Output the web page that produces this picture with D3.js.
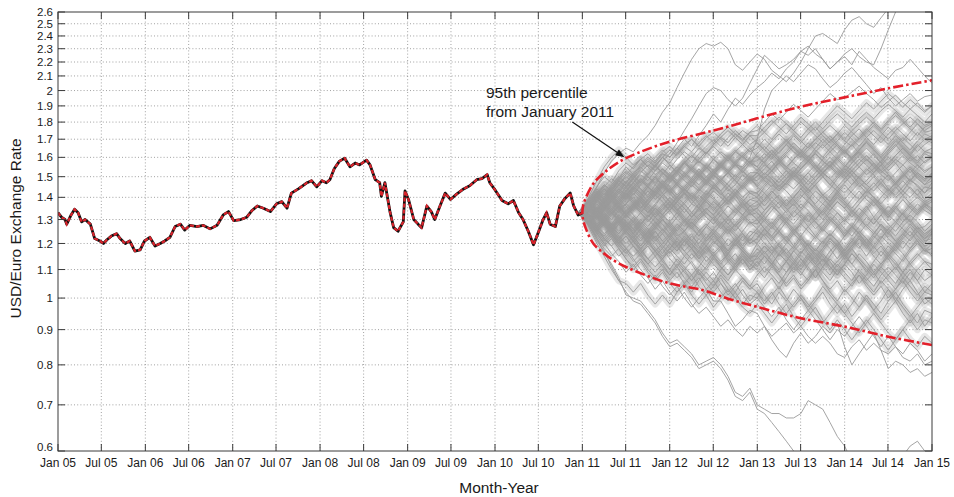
<!DOCTYPE html>
<html><head><meta charset="utf-8">
<script src="https://cdn.jsdelivr.net/npm/d3@7"></script>
<style>
html,body{margin:0;padding:0;background:#fff;}
svg{display:block;font-family:"Liberation Sans",Arial,Helvetica,sans-serif;}
</style></head><body>
<svg id="chart" width="954" height="497"></svg>
<script>
// ---- Observed USD/Euro rate: time in years after 1 Jan 2005, rate ----
const histYears = [0.00,0.04,0.08,0.10,0.15,0.19,0.23,0.27,0.31,0.37,0.42,0.48,0.52,0.56,0.61,0.67,0.71,0.77,0.82,0.88,0.94,0.99,
  1.05,1.11,1.17,1.22,1.28,1.34,1.40,1.45,1.51,1.59,1.66,1.74,1.82,1.89,1.95,2.01,2.09,2.16,2.22,2.28,2.35,2.43,2.50,2.56,2.62,
  2.67,2.75,2.85,2.90,2.96,3.02,3.07,3.11,3.16,3.22,3.28,3.34,3.40,3.45,3.53,3.57,3.63,3.68,3.70,3.74,3.80,3.84,3.89,3.95,3.97,
  4.01,4.07,4.12,4.16,4.22,4.27,4.31,4.37,4.43,4.49,4.56,4.64,4.71,4.79,4.85,4.91,4.94,5.00,5.08,5.15,5.21,5.27,5.32,5.38,5.44,
  5.50,5.55,5.59,5.63,5.69,5.74,5.80,5.86,5.90,5.95,6.00];
const histRate = [1.33,1.31,1.30,1.28,1.32,1.345,1.33,1.29,1.30,1.28,1.22,1.21,1.20,1.215,1.23,1.24,1.22,1.20,1.21,1.17,1.175,1.21,
  1.225,1.19,1.20,1.21,1.225,1.27,1.28,1.255,1.275,1.27,1.275,1.26,1.275,1.32,1.335,1.295,1.30,1.31,1.34,1.36,1.35,1.335,1.37,1.38,1.35,
  1.42,1.44,1.47,1.48,1.45,1.48,1.47,1.485,1.54,1.58,1.595,1.55,1.57,1.56,1.585,1.56,1.485,1.47,1.405,1.47,1.33,1.265,1.25,1.29,1.43,
  1.39,1.30,1.28,1.265,1.36,1.335,1.30,1.36,1.42,1.39,1.415,1.44,1.455,1.485,1.49,1.51,1.47,1.435,1.385,1.37,1.385,1.33,1.30,1.25,1.195,
  1.25,1.30,1.33,1.28,1.27,1.36,1.395,1.42,1.36,1.32,1.33];

// ---- Simulated rate paths, one value per month from Jan 2011 to Jan 2015 ----
// paths that stay in the main bundle
const simCorePaths = [
  [1.33,1.36,1.31,1.34,1.39,1.35,1.37,1.42,1.38,1.33,1.36,1.41,1.44,1.39,1.42,1.37,1.35,1.40,1.46,1.43,1.38,1.41,1.36,1.39,1.40,1.45,1.49,1.44,1.47,1.52,1.48,1.43,1.46,1.41,1.38,1.43,1.47,1.51,1.46,1.42,1.45,1.49,1.44,1.40,1.43,1.48,1.46,1.42,1.45],
  [1.33,1.29,1.31,1.27,1.24,1.28,1.32,1.29,1.25,1.22,1.26,1.30,1.27,1.23,1.25,1.21,1.18,1.22,1.26,1.29,1.25,1.28,1.24,1.21,1.25,1.23,1.19,1.16,1.20,1.24,1.21,1.17,1.14,1.18,1.22,1.19,1.23,1.27,1.24,1.20,1.16,1.19,1.15,1.18,1.22,1.25,1.21,1.17,1.20],
  [1.33,1.37,1.41,1.38,1.43,1.40,1.45,1.49,1.44,1.41,1.46,1.42,1.47,1.52,1.48,1.45,1.50,1.55,1.51,1.47,1.43,1.46,1.51,1.48,1.50,1.54,1.58,1.53,1.49,1.52,1.57,1.61,1.56,1.52,1.55,1.60,1.64,1.59,1.55,1.51,1.54,1.58,1.63,1.67,1.62,1.58,1.61,1.57,1.60],
  [1.33,1.30,1.26,1.29,1.24,1.21,1.25,1.22,1.18,1.21,1.17,1.20,1.23,1.19,1.15,1.18,1.14,1.17,1.21,1.18,1.13,1.16,1.12,1.15,1.15,1.19,1.16,1.12,1.09,1.13,1.10,1.14,1.18,1.15,1.11,1.08,1.12,1.09,1.05,1.08,1.12,1.09,1.06,1.03,1.07,1.10,1.06,1.02,1.05],
  [1.33,1.35,1.39,1.36,1.40,1.44,1.41,1.37,1.40,1.45,1.49,1.46,1.42,1.38,1.41,1.46,1.43,1.47,1.51,1.48,1.44,1.41,1.45,1.49,1.45,1.42,1.38,1.41,1.37,1.40,1.44,1.41,1.36,1.33,1.37,1.41,1.38,1.34,1.31,1.35,1.39,1.36,1.32,1.29,1.33,1.37,1.40,1.37,1.35],
  [1.33,1.31,1.27,1.30,1.26,1.29,1.25,1.22,1.26,1.23,1.27,1.24,1.20,1.17,1.21,1.24,1.19,1.16,1.20,1.23,1.19,1.22,1.18,1.15,1.20,1.24,1.21,1.25,1.29,1.26,1.22,1.19,1.23,1.27,1.31,1.28,1.24,1.27,1.32,1.36,1.31,1.27,1.24,1.28,1.33,1.29,1.26,1.27,1.30],
  [1.33,1.38,1.42,1.46,1.43,1.48,1.45,1.50,1.47,1.51,1.55,1.52,1.48,1.53,1.57,1.54,1.50,1.46,1.51,1.56,1.53,1.58,1.61,1.57,1.55,1.60,1.64,1.59,1.63,1.68,1.64,1.60,1.65,1.70,1.66,1.62,1.67,1.72,1.76,1.71,1.67,1.72,1.77,1.73,1.69,1.74,1.79,1.74,1.75],
  [1.33,1.35,1.32,1.36,1.33,1.29,1.32,1.36,1.39,1.35,1.31,1.34,1.38,1.34,1.30,1.27,1.31,1.35,1.32,1.28,1.31,1.27,1.30,1.33,1.30,1.26,1.22,1.25,1.21,1.18,1.22,1.19,1.15,1.18,1.22,1.19,1.15,1.12,1.16,1.13,1.09,1.12,1.16,1.13,1.09,1.06,1.10,1.13,1.10],
  [1.33,1.30,1.34,1.31,1.35,1.39,1.36,1.32,1.28,1.31,1.35,1.32,1.36,1.40,1.37,1.33,1.30,1.34,1.38,1.35,1.31,1.34,1.38,1.33,1.35,1.39,1.43,1.40,1.36,1.40,1.44,1.48,1.45,1.41,1.44,1.49,1.53,1.49,1.45,1.48,1.52,1.56,1.51,1.47,1.50,1.54,1.49,1.46,1.50],
  [1.33,1.36,1.40,1.37,1.33,1.36,1.32,1.35,1.39,1.43,1.39,1.42,1.38,1.34,1.37,1.41,1.38,1.42,1.39,1.35,1.38,1.42,1.39,1.36,1.38,1.34,1.37,1.33,1.30,1.34,1.31,1.27,1.30,1.34,1.30,1.27,1.23,1.26,1.30,1.27,1.24,1.28,1.25,1.21,1.24,1.28,1.25,1.22,1.25],
  [1.33,1.37,1.34,1.39,1.43,1.47,1.44,1.49,1.53,1.50,1.46,1.51,1.56,1.52,1.57,1.61,1.58,1.54,1.59,1.63,1.60,1.56,1.61,1.65,1.60,1.57,1.62,1.66,1.70,1.65,1.61,1.58,1.63,1.67,1.63,1.59,1.55,1.60,1.64,1.69,1.65,1.61,1.66,1.70,1.66,1.62,1.67,1.63,1.65],
  [1.33,1.29,1.25,1.28,1.24,1.20,1.23,1.19,1.16,1.20,1.17,1.14,1.18,1.15,1.12,1.16,1.13,1.10,1.14,1.11,1.08,1.12,1.15,1.12,1.10,1.07,1.11,1.08,1.04,1.07,1.03,1.06,1.10,1.06,1.02,0.99,1.03,1.00,0.97,1.01,0.98,0.95,0.99,1.02,0.98,0.95,0.92,0.96,0.95],
  [1.33,1.32,1.28,1.31,1.35,1.31,1.27,1.24,1.28,1.32,1.29,1.25,1.29,1.33,1.30,1.26,1.23,1.27,1.31,1.27,1.24,1.28,1.32,1.29,1.28,1.32,1.36,1.33,1.29,1.33,1.37,1.34,1.30,1.34,1.38,1.42,1.38,1.35,1.39,1.43,1.40,1.36,1.33,1.37,1.41,1.45,1.41,1.38,1.40],
  [1.33,1.36,1.33,1.37,1.41,1.38,1.42,1.39,1.35,1.39,1.43,1.47,1.43,1.40,1.44,1.48,1.44,1.41,1.45,1.49,1.46,1.42,1.46,1.50,1.45,1.49,1.53,1.49,1.46,1.50,1.54,1.58,1.54,1.50,1.46,1.50,1.54,1.51,1.55,1.59,1.55,1.51,1.48,1.52,1.56,1.60,1.56,1.52,1.55],
  [1.33,1.30,1.33,1.29,1.26,1.30,1.27,1.30,1.26,1.23,1.27,1.30,1.26,1.22,1.25,1.29,1.25,1.21,1.24,1.20,1.17,1.21,1.24,1.20,1.22,1.26,1.23,1.19,1.16,1.19,1.23,1.19,1.16,1.13,1.17,1.20,1.16,1.19,1.23,1.19,1.15,1.12,1.15,1.19,1.16,1.12,1.15,1.18,1.15],
  [1.33,1.37,1.41,1.37,1.40,1.44,1.41,1.45,1.42,1.46,1.50,1.46,1.43,1.47,1.51,1.47,1.51,1.55,1.51,1.48,1.52,1.56,1.53,1.49,1.52,1.48,1.45,1.49,1.53,1.49,1.46,1.42,1.46,1.50,1.46,1.43,1.39,1.43,1.47,1.44,1.40,1.37,1.41,1.45,1.41,1.37,1.34,1.37,1.39],
  [1.33,1.31,1.35,1.32,1.36,1.33,1.37,1.40,1.36,1.33,1.37,1.41,1.38,1.34,1.38,1.42,1.39,1.43,1.40,1.36,1.40,1.44,1.40,1.43,1.42,1.46,1.50,1.47,1.51,1.55,1.51,1.48,1.52,1.56,1.60,1.56,1.52,1.57,1.61,1.65,1.61,1.57,1.62,1.66,1.71,1.67,1.63,1.67,1.70],
  [1.33,1.30,1.27,1.31,1.28,1.25,1.29,1.26,1.22,1.25,1.21,1.24,1.28,1.24,1.21,1.18,1.22,1.19,1.23,1.20,1.16,1.20,1.17,1.14,1.18,1.15,1.12,1.16,1.13,1.09,1.12,1.16,1.12,1.09,1.06,1.10,1.07,1.04,1.08,1.05,1.02,1.06,1.03,0.99,1.03,1.06,1.02,0.98,1.00],
  [1.33,1.35,1.31,1.28,1.32,1.36,1.32,1.29,1.33,1.37,1.34,1.30,1.27,1.31,1.35,1.31,1.34,1.38,1.35,1.31,1.28,1.32,1.36,1.32,1.33,1.29,1.26,1.30,1.34,1.37,1.33,1.30,1.26,1.29,1.33,1.30,1.26,1.23,1.27,1.31,1.28,1.32,1.28,1.25,1.29,1.32,1.29,1.25,1.28],
  [1.33,1.38,1.42,1.39,1.44,1.48,1.45,1.41,1.46,1.50,1.47,1.52,1.49,1.53,1.57,1.53,1.50,1.54,1.59,1.56,1.60,1.64,1.60,1.57,1.62,1.66,1.62,1.58,1.55,1.59,1.63,1.59,1.55,1.52,1.56,1.60,1.56,1.53,1.49,1.53,1.57,1.53,1.50,1.46,1.50,1.54,1.50,1.46,1.48],
  [1.33,1.29,1.26,1.22,1.25,1.21,1.18,1.21,1.17,1.14,1.17,1.13,1.10,1.14,1.11,1.08,1.11,1.15,1.12,1.09,1.06,1.10,1.07,1.04,1.08,1.11,1.08,1.05,1.09,1.12,1.09,1.06,1.10,1.14,1.11,1.08,1.12,1.16,1.13,1.09,1.13,1.17,1.14,1.10,1.14,1.18,1.21,1.17,1.18],
  [1.33,1.34,1.30,1.34,1.38,1.34,1.31,1.35,1.39,1.36,1.32,1.36,1.40,1.37,1.33,1.37,1.41,1.38,1.34,1.38,1.42,1.39,1.35,1.39,1.38,1.42,1.46,1.43,1.47,1.44,1.48,1.52,1.48,1.52,1.56,1.52,1.49,1.53,1.57,1.61,1.57,1.53,1.57,1.61,1.65,1.61,1.58,1.63,1.62],
  [1.33,1.31,1.34,1.30,1.27,1.31,1.28,1.24,1.28,1.25,1.29,1.26,1.22,1.26,1.30,1.27,1.23,1.27,1.24,1.28,1.25,1.21,1.25,1.29,1.26,1.30,1.27,1.31,1.28,1.24,1.28,1.32,1.29,1.25,1.29,1.33,1.30,1.34,1.31,1.27,1.31,1.35,1.32,1.36,1.32,1.29,1.33,1.36,1.33],
  [1.33,1.39,1.44,1.41,1.46,1.50,1.47,1.52,1.55,1.51,1.56,1.60,1.56,1.52,1.57,1.61,1.57,1.62,1.66,1.62,1.58,1.63,1.67,1.63,1.65,1.70,1.66,1.62,1.67,1.72,1.68,1.73,1.77,1.72,1.68,1.73,1.78,1.74,1.70,1.75,1.80,1.76,1.81,1.86,1.81,1.77,1.82,1.78,1.80],
  [1.33,1.30,1.26,1.23,1.27,1.24,1.28,1.24,1.21,1.25,1.22,1.18,1.22,1.19,1.23,1.20,1.17,1.21,1.24,1.21,1.17,1.21,1.18,1.22,1.20,1.16,1.19,1.15,1.18,1.14,1.11,1.15,1.12,1.16,1.13,1.09,1.12,1.16,1.13,1.10,1.07,1.11,1.08,1.05,1.09,1.12,1.09,1.06,1.08],
  [1.33,1.36,1.40,1.44,1.40,1.37,1.41,1.45,1.49,1.45,1.42,1.46,1.50,1.47,1.51,1.55,1.52,1.48,1.52,1.57,1.53,1.50,1.54,1.58,1.55,1.51,1.55,1.59,1.55,1.52,1.48,1.52,1.56,1.52,1.49,1.45,1.49,1.53,1.49,1.46,1.50,1.46,1.43,1.47,1.43,1.40,1.44,1.39,1.42],
  [1.33,1.35,1.32,1.36,1.39,1.35,1.32,1.36,1.33,1.29,1.33,1.37,1.34,1.38,1.35,1.31,1.35,1.39,1.36,1.32,1.36,1.33,1.37,1.34,1.35,1.31,1.28,1.32,1.29,1.25,1.29,1.33,1.29,1.26,1.30,1.27,1.23,1.27,1.24,1.20,1.24,1.28,1.24,1.21,1.18,1.22,1.25,1.21,1.22],
  [1.33,1.30,1.27,1.30,1.34,1.30,1.27,1.31,1.27,1.24,1.28,1.32,1.29,1.25,1.29,1.26,1.30,1.33,1.30,1.26,1.30,1.27,1.31,1.28,1.30,1.34,1.38,1.35,1.39,1.36,1.40,1.44,1.40,1.37,1.41,1.45,1.42,1.46,1.50,1.46,1.43,1.47,1.51,1.47,1.51,1.55,1.51,1.48,1.52],
  [1.33,1.28,1.24,1.20,1.23,1.19,1.16,1.19,1.15,1.12,1.15,1.11,1.08,1.12,1.09,1.06,1.10,1.07,1.04,1.08,1.05,1.02,1.06,1.03,1.05,1.01,0.98,1.02,0.99,1.03,1.00,0.97,1.00,1.04,1.01,0.98,0.95,0.98,1.02,0.99,0.96,0.99,1.03,1.00,0.97,0.94,0.97,1.00,0.98],
  [1.33,1.37,1.33,1.37,1.34,1.38,1.42,1.38,1.35,1.39,1.43,1.40,1.36,1.40,1.44,1.41,1.37,1.41,1.45,1.42,1.38,1.42,1.46,1.42,1.42,1.38,1.42,1.46,1.43,1.39,1.35,1.39,1.43,1.40,1.36,1.40,1.37,1.33,1.37,1.41,1.38,1.34,1.31,1.35,1.39,1.35,1.32,1.36,1.38],
  [1.33,1.36,1.41,1.45,1.49,1.46,1.51,1.55,1.59,1.55,1.60,1.64,1.60,1.65,1.61,1.57,1.62,1.66,1.70,1.66,1.71,1.75,1.71,1.67,1.70,1.74,1.70,1.75,1.79,1.75,1.71,1.76,1.80,1.76,1.81,1.85,1.81,1.77,1.82,1.86,1.82,1.87,1.91,1.87,1.83,1.88,1.84,1.80,1.85],
  [1.33,1.30,1.27,1.24,1.27,1.23,1.20,1.23,1.19,1.22,1.18,1.15,1.18,1.21,1.17,1.14,1.17,1.13,1.16,1.19,1.15,1.12,1.16,1.13,1.14,1.17,1.13,1.10,1.13,1.17,1.14,1.10,1.07,1.11,1.14,1.11,1.15,1.18,1.14,1.11,1.08,1.11,1.15,1.12,1.09,1.13,1.16,1.13,1.12],
  [1.33,1.35,1.39,1.35,1.38,1.42,1.39,1.43,1.40,1.37,1.41,1.45,1.42,1.46,1.42,1.39,1.43,1.47,1.44,1.48,1.52,1.48,1.45,1.49,1.48,1.52,1.49,1.45,1.49,1.53,1.50,1.46,1.50,1.54,1.58,1.54,1.51,1.55,1.59,1.56,1.52,1.56,1.60,1.57,1.61,1.57,1.54,1.58,1.60],
  [1.33,1.29,1.32,1.28,1.25,1.28,1.24,1.21,1.24,1.20,1.23,1.19,1.16,1.19,1.22,1.18,1.15,1.19,1.16,1.13,1.16,1.20,1.17,1.14,1.16,1.19,1.16,1.20,1.23,1.19,1.16,1.20,1.17,1.21,1.24,1.21,1.17,1.21,1.25,1.22,1.18,1.22,1.26,1.23,1.27,1.30,1.26,1.23,1.26],
  [1.33,1.34,1.37,1.33,1.30,1.34,1.37,1.34,1.38,1.34,1.31,1.35,1.38,1.35,1.31,1.28,1.32,1.35,1.32,1.36,1.39,1.35,1.32,1.36,1.36,1.39,1.43,1.39,1.36,1.40,1.44,1.40,1.37,1.41,1.38,1.42,1.46,1.42,1.39,1.43,1.47,1.43,1.40,1.44,1.48,1.44,1.41,1.45,1.44],
  [1.33,1.31,1.35,1.31,1.28,1.32,1.29,1.26,1.30,1.27,1.31,1.28,1.24,1.28,1.25,1.29,1.26,1.22,1.26,1.23,1.27,1.24,1.21,1.25,1.24,1.20,1.17,1.20,1.16,1.13,1.17,1.14,1.11,1.14,1.10,1.13,1.16,1.12,1.09,1.06,1.09,1.05,1.08,1.11,1.07,1.04,1.01,1.04,1.02],
  [1.33,1.37,1.34,1.38,1.42,1.39,1.43,1.47,1.44,1.40,1.44,1.48,1.45,1.41,1.45,1.49,1.46,1.50,1.47,1.43,1.47,1.51,1.48,1.52,1.52,1.56,1.53,1.57,1.61,1.57,1.54,1.58,1.62,1.58,1.55,1.59,1.63,1.60,1.64,1.68,1.64,1.60,1.64,1.69,1.65,1.61,1.66,1.70,1.68],
  [1.33,1.36,1.32,1.35,1.39,1.36,1.32,1.36,1.40,1.37,1.41,1.38,1.34,1.38,1.42,1.39,1.35,1.39,1.43,1.40,1.37,1.41,1.38,1.42,1.40,1.36,1.40,1.37,1.33,1.37,1.41,1.38,1.34,1.30,1.34,1.38,1.35,1.31,1.35,1.32,1.28,1.32,1.36,1.33,1.29,1.33,1.37,1.34,1.32],
  [1.33,1.29,1.26,1.22,1.19,1.22,1.18,1.15,1.18,1.14,1.11,1.14,1.10,1.07,1.10,1.06,1.09,1.05,1.02,1.05,1.01,1.04,1.07,1.04,1.02,0.99,1.02,0.98,0.95,0.98,1.01,0.98,0.95,0.92,0.95,0.98,0.95,0.92,0.89,0.92,0.95,0.92,0.89,0.87,0.90,0.93,0.90,0.93,0.92],
  [1.33,1.38,1.43,1.40,1.45,1.49,1.53,1.50,1.55,1.59,1.55,1.60,1.64,1.61,1.66,1.70,1.66,1.62,1.67,1.71,1.75,1.71,1.67,1.72,1.72,1.77,1.81,1.77,1.73,1.78,1.83,1.79,1.75,1.80,1.85,1.90,1.86,1.82,1.87,1.92,1.88,1.93,1.98,1.94,1.89,1.94,1.90,1.86,1.90],
  [1.33,1.36,1.32,1.29,1.33,1.30,1.34,1.37,1.33,1.30,1.27,1.31,1.34,1.30,1.27,1.31,1.35,1.31,1.28,1.32,1.28,1.25,1.29,1.33,1.30,1.26,1.29,1.25,1.22,1.26,1.23,1.27,1.23,1.20,1.24,1.21,1.17,1.21,1.18,1.22,1.19,1.15,1.19,1.16,1.13,1.17,1.20,1.17,1.16],
  [1.33,1.30,1.33,1.29,1.26,1.29,1.25,1.28,1.24,1.21,1.25,1.21,1.18,1.22,1.19,1.23,1.20,1.24,1.21,1.18,1.22,1.19,1.23,1.20,1.22,1.26,1.23,1.27,1.31,1.28,1.32,1.29,1.33,1.37,1.34,1.38,1.35,1.39,1.43,1.39,1.36,1.40,1.44,1.41,1.45,1.49,1.45,1.42,1.47],
  [1.33,1.27,1.23,1.19,1.22,1.18,1.14,1.10,1.13,1.09,1.06,1.09,1.05,1.02,1.05,1.01,0.98,1.01,0.97,1.00,1.03,1.00,0.97,0.95,0.98,0.95,0.92,0.95,0.98,0.94,0.91,0.94,0.97,0.93,0.90,0.93,0.90,0.87,0.90,0.93,0.90,0.87,0.84,0.87,0.90,0.87,0.85,0.88,0.86],
  [1.33,1.35,1.39,1.43,1.40,1.44,1.48,1.45,1.49,1.46,1.50,1.54,1.51,1.55,1.52,1.48,1.52,1.56,1.53,1.57,1.61,1.57,1.54,1.58,1.58,1.62,1.59,1.63,1.67,1.63,1.60,1.64,1.68,1.65,1.69,1.73,1.69,1.66,1.70,1.74,1.78,1.74,1.70,1.75,1.79,1.83,1.79,1.75,1.78],
  [1.33,1.29,1.25,1.28,1.24,1.20,1.23,1.19,1.16,1.19,1.15,1.18,1.14,1.11,1.15,1.12,1.08,1.11,1.15,1.11,1.08,1.11,1.14,1.10,1.12,1.15,1.12,1.16,1.13,1.17,1.20,1.16,1.13,1.17,1.21,1.18,1.14,1.18,1.22,1.19,1.23,1.20,1.16,1.20,1.24,1.21,1.25,1.22,1.24],
  [1.33,1.41,1.48,1.55,1.60,1.64,1.60,1.56,1.59,1.55,1.51,1.54,1.50,1.46,1.50,1.54,1.51,1.47,1.51,1.55,1.52,1.48,1.44,1.48,1.52,1.49,1.53,1.57,1.53,1.50,1.54,1.58,1.62,1.58,1.55,1.51,1.55,1.59,1.63,1.59,1.56,1.52,1.55,1.59,1.56,1.52,1.56,1.53,1.55],
  [1.33,1.26,1.20,1.15,1.10,1.06,1.05,1.02,1.05,1.01,0.98,1.01,0.98,1.02,1.05,1.02,1.06,1.09,1.06,1.10,1.13,1.10,1.14,1.11,1.15,1.12,1.16,1.19,1.15,1.12,1.16,1.20,1.17,1.21,1.18,1.14,1.18,1.22,1.19,1.15,1.19,1.23,1.20,1.17,1.21,1.18,1.22,1.19,1.20],
  [1.33,1.39,1.45,1.50,1.47,1.53,1.57,1.54,1.59,1.62,1.58,1.63,1.66,1.62,1.67,1.70,1.66,1.71,1.74,1.70,1.66,1.71,1.75,1.72,1.68,1.64,1.69,1.73,1.69,1.65,1.61,1.66,1.70,1.74,1.70,1.66,1.62,1.67,1.71,1.76,1.72,1.68,1.73,1.77,1.73,1.69,1.74,1.70,1.72],
  [1.33,1.27,1.22,1.18,1.15,1.18,1.14,1.11,1.14,1.10,1.07,1.10,1.06,1.09,1.05,1.08,1.04,1.01,1.04,1.07,1.03,1.00,1.03,0.99,1.02,0.98,1.01,1.04,1.00,0.97,1.00,0.96,0.99,1.02,0.98,0.95,0.98,0.94,0.97,1.00,0.96,0.93,0.96,0.99,0.95,0.92,0.95,0.91,0.94],
  [1.33,1.38,1.35,1.40,1.45,1.42,1.47,1.51,1.47,1.52,1.56,1.52,1.49,1.53,1.58,1.54,1.59,1.63,1.59,1.55,1.60,1.56,1.52,1.57,1.61,1.57,1.53,1.58,1.62,1.66,1.62,1.58,1.54,1.59,1.63,1.67,1.63,1.59,1.64,1.68,1.64,1.60,1.56,1.61,1.65,1.61,1.57,1.62,1.60],
  [1.33,1.30,1.26,1.29,1.25,1.22,1.26,1.23,1.19,1.23,1.20,1.16,1.20,1.17,1.21,1.18,1.14,1.18,1.15,1.12,1.16,1.13,1.17,1.14,1.11,1.15,1.12,1.09,1.13,1.10,1.14,1.11,1.07,1.11,1.08,1.12,1.09,1.06,1.10,1.07,1.04,1.08,1.11,1.08,1.05,1.09,1.06,1.10,1.08],
  [1.33,1.35,1.32,1.29,1.33,1.36,1.33,1.37,1.34,1.31,1.35,1.32,1.36,1.33,1.29,1.33,1.37,1.33,1.30,1.34,1.31,1.35,1.32,1.36,1.33,1.30,1.34,1.38,1.35,1.31,1.34,1.38,1.35,1.32,1.36,1.33,1.29,1.33,1.30,1.34,1.38,1.35,1.31,1.35,1.32,1.36,1.33,1.37,1.34],
  [1.33,1.36,1.41,1.46,1.43,1.48,1.52,1.49,1.54,1.58,1.55,1.60,1.57,1.62,1.66,1.63,1.68,1.72,1.68,1.73,1.77,1.73,1.69,1.74,1.78,1.74,1.79,1.83,1.79,1.75,1.80,1.76,1.72,1.68,1.72,1.67,1.63,1.67,1.62,1.58,1.62,1.57,1.53,1.57,1.52,1.48,1.52,1.49,1.50],
  [1.33,1.29,1.25,1.21,1.24,1.20,1.17,1.13,1.16,1.12,1.09,1.12,1.08,1.11,1.07,1.04,1.07,1.03,1.06,1.02,0.99,1.02,0.98,1.01,1.00,1.04,1.07,1.03,1.07,1.11,1.08,1.12,1.15,1.11,1.15,1.19,1.15,1.19,1.22,1.18,1.22,1.26,1.22,1.19,1.23,1.27,1.23,1.20,1.24],
  [1.33,1.34,1.38,1.35,1.39,1.36,1.40,1.44,1.41,1.45,1.42,1.46,1.50,1.46,1.43,1.47,1.51,1.48,1.52,1.56,1.52,1.57,1.61,1.57,1.53,1.58,1.62,1.58,1.54,1.59,1.63,1.68,1.64,1.60,1.65,1.69,1.74,1.70,1.66,1.71,1.75,1.71,1.67,1.72,1.68,1.64,1.69,1.73,1.71],
  [1.33,1.31,1.34,1.30,1.27,1.30,1.26,1.29,1.25,1.22,1.25,1.21,1.24,1.20,1.17,1.20,1.16,1.19,1.15,1.18,1.14,1.11,1.14,1.10,1.13,1.09,1.12,1.08,1.05,1.08,1.04,1.07,1.10,1.06,1.03,1.06,1.02,1.05,1.08,1.04,1.01,1.04,1.00,1.03,1.06,1.02,0.99,1.02,1.01],
  [1.33,1.37,1.40,1.44,1.41,1.37,1.41,1.45,1.42,1.38,1.42,1.46,1.43,1.47,1.44,1.40,1.44,1.48,1.45,1.41,1.45,1.49,1.53,1.49,1.46,1.50,1.47,1.43,1.47,1.51,1.47,1.44,1.48,1.52,1.49,1.53,1.50,1.46,1.50,1.54,1.51,1.47,1.43,1.47,1.51,1.48,1.52,1.49,1.51],
  [1.33,1.30,1.27,1.31,1.27,1.24,1.28,1.25,1.29,1.26,1.22,1.26,1.23,1.27,1.24,1.21,1.25,1.28,1.25,1.22,1.26,1.23,1.19,1.23,1.26,1.23,1.27,1.24,1.21,1.25,1.28,1.25,1.22,1.26,1.23,1.27,1.30,1.27,1.24,1.28,1.25,1.22,1.26,1.29,1.26,1.23,1.27,1.24,1.26],
  [1.33,1.35,1.31,1.35,1.39,1.43,1.40,1.44,1.48,1.45,1.41,1.45,1.49,1.53,1.50,1.54,1.58,1.55,1.51,1.55,1.59,1.63,1.60,1.64,1.68,1.64,1.60,1.65,1.69,1.73,1.69,1.65,1.70,1.74,1.78,1.74,1.70,1.75,1.79,1.83,1.79,1.75,1.80,1.84,1.80,1.76,1.72,1.77,1.79]
];
// paths that leave the band
const simOuterPaths = [
  [1.33,1.29,1.24,1.20,1.16,1.13,1.09,1.12,1.08,1.05,1.08,1.04,1.01,1.04,1.00,0.97,1.00,1.03,0.99,0.99,0.95,0.91,0.93,0.96,0.95,0.91,0.87,0.84,0.82,0.86,0.89,0.86,0.88,0.91,0.89,0.92,0.85,0.80,0.83,0.86,0.89,0.84,0.79,0.81,0.80,0.78,0.79,0.77,0.78],
  [1.33,1.30,1.26,1.22,1.19,1.15,1.18,1.14,1.10,1.07,1.03,1.06,1.02,0.99,1.02,0.98,0.95,0.97,0.94,0.91,0.93,0.90,0.88,0.91,0.89,0.91,0.88,0.90,0.92,0.89,0.91,0.88,0.86,0.88,0.86,0.83,0.82,0.85,0.87,0.84,0.86,0.84,0.83,0.85,0.82,0.81,0.83,0.80,0.81],
  [1.33,1.31,1.27,1.30,1.26,1.22,1.25,1.21,1.18,1.21,1.17,1.14,1.17,1.13,1.10,1.13,1.09,1.06,1.09,1.05,1.02,1.05,1.01,0.98,1.00,0.97,0.94,0.97,0.93,0.90,0.93,0.96,0.93,0.90,0.87,0.90,0.88,0.91,0.94,0.91,0.88,0.85,0.88,0.85,0.83,0.86,0.84,0.81,0.83],
  [1.33,1.28,1.22,1.16,1.12,1.07,1.01,1.00,0.99,0.96,0.93,0.89,0.86,0.87,0.85,0.83,0.80,0.81,0.82,0.80,0.77,0.73,0.72,0.74,0.70,0.69,0.68,0.68,0.67,0.67,0.68,0.71,0.70,0.69,0.66,0.63,0.61,0.58,0.57,0.56,0.55,0.56,0.54,0.53,0.55,0.54,0.52,0.53,0.52],
  [1.33,1.27,1.21,1.17,1.11,1.06,1.02,0.99,0.98,0.95,0.92,0.88,0.85,0.86,0.84,0.82,0.79,0.80,0.81,0.79,0.76,0.72,0.71,0.73,0.69,0.68,0.66,0.64,0.62,0.60,0.58,0.57,0.55,0.56,0.54,0.53,0.55,0.56,0.54,0.55,0.57,0.56,0.58,0.57,0.59,0.61,0.62,0.60,0.59],
  [1.33,1.40,1.45,1.52,1.58,1.62,1.65,1.63,1.68,1.72,1.78,1.86,1.92,2.02,2.12,2.22,2.30,2.34,2.32,2.35,2.30,2.18,2.14,2.20,2.26,2.22,2.14,2.10,2.06,2.12,2.20,2.30,2.40,2.42,2.38,2.34,2.45,2.53,2.56,2.50,2.47,2.55,2.63,2.70,2.76,2.82,2.88,2.93,2.98],
  [1.33,1.36,1.40,1.37,1.42,1.46,1.50,1.47,1.52,1.56,1.53,1.58,1.62,1.68,1.75,1.82,1.90,1.98,2.02,2.00,1.94,1.90,1.95,2.05,2.15,2.25,2.20,2.15,2.18,2.22,2.28,2.25,2.30,2.22,2.15,2.20,2.26,2.30,2.24,2.20,2.18,2.30,2.45,2.60,2.75,2.85,2.92,3.00,3.05],
  [1.33,1.37,1.42,1.39,1.44,1.49,1.55,1.51,1.56,1.60,1.57,1.62,1.60,1.65,1.70,1.66,1.72,1.78,1.85,1.80,1.88,1.95,1.91,1.97,2.02,2.06,2.12,2.08,2.15,2.20,2.28,2.32,2.26,2.22,2.15,2.20,2.24,2.18,2.28,2.22,2.16,2.12,2.08,2.14,2.16,2.22,2.16,2.10,2.05],
  [1.33,1.35,1.38,1.42,1.39,1.43,1.47,1.44,1.48,1.45,1.50,1.46,1.51,1.48,1.52,1.49,1.54,1.50,1.53,1.49,1.52,1.56,1.55,1.60,1.70,1.88,2.00,2.05,2.10,2.06,2.12,2.18,2.15,2.08,2.02,2.06,2.12,2.16,2.10,2.04,1.98,2.02,1.95,1.90,1.94,1.98,1.93,1.96,1.97],
  [1.33,1.37,1.34,1.38,1.42,1.46,1.43,1.47,1.51,1.48,1.53,1.57,1.54,1.59,1.63,1.60,1.65,1.62,1.67,1.71,1.68,1.73,1.70,1.74,1.75,1.80,1.85,1.81,1.86,1.91,1.87,1.83,1.88,1.93,1.98,1.94,1.95,1.99,2.03,1.98,1.94,1.89,1.93,1.97,1.92,1.88,1.92,1.87,1.90]
];

// ---- 95th percentile band from January 2011: months after Jan 2011 ----
const bandMonths = [0, 0.1, 0.5, 1.5, 3, 5, 7.5, 12, 16.5, 20, 24, 30, 36, 42, 48];
const bandUpper  = [1.33, 1.36, 1.40, 1.465, 1.52, 1.575, 1.622, 1.686, 1.734, 1.773, 1.823, 1.895, 1.955, 2.015, 2.07];
const bandLower  = [1.33, 1.30, 1.26, 1.20, 1.16, 1.123, 1.092, 1.05, 1.027, 0.998, 0.971, 0.935, 0.909, 0.879, 0.855];

// ---- Axis ticks ----
const yTickValues = [0.6,0.7,0.8,0.9,1,1.1,1.2,1.3,1.4,1.5,1.6,1.7,1.8,1.9,2,2.1,2.2,2.3,2.4,2.5,2.6];
const xTickLabels = ["Jan 05","Jul 05","Jan 06","Jul 06","Jan 07","Jul 07","Jan 08","Jul 08","Jan 09","Jul 09","Jan 10",
  "Jul 10","Jan 11","Jul 11","Jan 12","Jul 12","Jan 13","Jul 13","Jan 14","Jul 14","Jan 15"];

const DAY = 864e5;
const histOrigin = new Date(2005, 0, 1);
const simOrigin = new Date(2011, 0, 1);
const histDate = t => new Date(+histOrigin + t * 365.25 * DAY);
const simDate = m => new Date(+simOrigin + m * 30.4375 * DAY);
const parseTick = d3.timeParse("%b %y");

const box = {left: 58, right: 932, top: 12, bottom: 451};
const x = d3.scaleTime().domain([new Date(2005,0,1), new Date(2015,0,1)]).range([box.left, box.right]);
const y = d3.scaleLog().domain([0.6, 2.6]).range([box.bottom, box.top]);

const svg = d3.select("#chart");
svg.append("defs").append("clipPath").attr("id", "plotClip")
  .append("rect").attr("x", box.left).attr("y", box.top)
  .attr("width", box.right - box.left).attr("height", box.bottom - box.top);

const xTickDates = xTickLabels.map(parseTick);

// dotted grid
const grid = svg.append("g").attr("stroke", "#8a8a8a").attr("stroke-width", 0.8)
  .attr("stroke-dasharray", "1,2.2").attr("fill", "none");
xTickDates.slice(1, -1).forEach(d => {
  grid.append("line").attr("x1", x(d)).attr("x2", x(d)).attr("y1", box.top).attr("y2", box.bottom);
});
yTickValues.slice(1, -1).forEach(v => {
  grid.append("line").attr("x1", box.left).attr("x2", box.right).attr("y1", y(v)).attr("y2", y(v));
});

const plot = svg.append("g").attr("clip-path", "url(#plotClip)");

// simulated paths: the dense bundle gets a soft wide stroke under its thin lines
const simLine = d3.line().x((d, i) => x(simDate(i))).y(d => y(d));
plot.append("g").selectAll("path").data(simCorePaths).join("path")
  .attr("d", simLine).attr("fill", "none").attr("stroke", "#9a9a9a").attr("stroke-width", 7)
  .attr("stroke-opacity", 0.24).attr("stroke-linejoin", "round").attr("stroke-linecap", "round");
plot.append("g").selectAll("path").data(simCorePaths.concat(simOuterPaths)).join("path")
  .attr("d", simLine).attr("fill", "none").attr("stroke", "#9a9a9a").attr("stroke-width", 0.9)
  .attr("stroke-linejoin", "round");

// observed rate: black line with red dashed overlay
const histLine = d3.line().x((d, i) => x(histDate(histYears[i]))).y(d => y(d));
plot.append("path").datum(histRate).attr("d", histLine).attr("fill", "none")
  .attr("stroke", "#111").attr("stroke-width", 2.8).attr("stroke-linejoin", "round");
plot.append("path").datum(histRate).attr("d", histLine).attr("fill", "none")
  .attr("stroke", "#d9232b").attr("stroke-width", 2.2).attr("stroke-dasharray", "4,2");

// 95th percentile band, drawn as one curve through the Jan 2011 origin
const bandPts = bandMonths.map((m, i) => [m, bandLower[i]]).reverse()
  .concat(bandMonths.slice(1).map((m, i) => [m, bandUpper[i + 1]]));
const bandLine = d3.line().x(d => x(simDate(d[0]))).y(d => y(d[1])).curve(d3.curveCatmullRom.alpha(0.5));
plot.append("path").datum(bandPts).attr("d", bandLine).attr("fill", "none")
  .attr("stroke", "#e3202a").attr("stroke-width", 2.6).attr("stroke-dasharray", "10,3,2.5,3");

// axes box and inward ticks
const axes = svg.append("g").attr("stroke", "#3a3a3a").attr("stroke-width", 1).attr("fill", "none");
axes.append("rect").attr("x", box.left).attr("y", box.top)
  .attr("width", box.right - box.left).attr("height", box.bottom - box.top);
const TL = 7;
xTickDates.forEach(d => {
  axes.append("line").attr("x1", x(d)).attr("x2", x(d)).attr("y1", box.bottom).attr("y2", box.bottom - TL);
  axes.append("line").attr("x1", x(d)).attr("x2", x(d)).attr("y1", box.top).attr("y2", box.top + TL);
});
yTickValues.forEach(v => {
  axes.append("line").attr("x1", box.left).attr("x2", box.left + TL).attr("y1", y(v)).attr("y2", y(v));
  axes.append("line").attr("x1", box.right).attr("x2", box.right - TL).attr("y1", y(v)).attr("y2", y(v));
});

// tick labels (the lowest y label sits a little higher so it clears "Jan 05")
const fmt = d3.format("~g");
svg.append("g").selectAll("text").data(yTickValues).join("text")
  .attr("x", box.left - 5).attr("y", (d, i) => y(d) - (i === 0 ? 4 : 0)).attr("dy", "0.36em")
  .attr("text-anchor", "end").attr("font-size", 11.5).attr("fill", "#1a1a1a").text(d => fmt(d));
svg.append("g").selectAll("text").data(xTickLabels).join("text")
  .attr("x", (d, i) => x(xTickDates[i])).attr("y", 467)
  .attr("text-anchor", "middle").attr("font-size", 12).attr("fill", "#1a1a1a").text(d => d);

// axis titles
svg.append("text").attr("x", (box.left + box.right) / 2 + 4).attr("y", 493)
  .attr("text-anchor", "middle").attr("font-size", 15.5).attr("fill", "#1a1a1a").text("Month-Year");
svg.append("text").attr("transform", `translate(21,${(box.top + box.bottom) / 2 - 3}) rotate(-90)`)
  .attr("text-anchor", "middle").attr("font-size", 15.5).attr("fill", "#1a1a1a").text("USD/Euro Exchange Rate");

// annotation with arrow
const note = svg.append("g").attr("font-size", 15.5).attr("fill", "#1a1a1a");
note.append("text").attr("x", 486).attr("y", 98).text("95th percentile");
note.append("text").attr("x", 486).attr("y", 117).text("from January 2011");
const arrowFrom = [new Date(2010, 10, 20), 1.80];
const arrowTo = [new Date(2011, 5, 26), 1.60];
const ax1 = x(arrowFrom[0]), ay1 = y(arrowFrom[1]), ax2 = x(arrowTo[0]), ay2 = y(arrowTo[1]);
const ang = Math.atan2(ay2 - ay1, ax2 - ax1), hl = 9, hw = 3.5;
const bx = ax2 - hl * Math.cos(ang), by = ay2 - hl * Math.sin(ang);
svg.append("line").attr("x1", ax1).attr("y1", ay1).attr("x2", bx).attr("y2", by)
  .attr("stroke", "#111").attr("stroke-width", 1.2);
svg.append("path").attr("fill", "#111").attr("d",
  `M${ax2},${ay2}L${bx - hw * Math.sin(ang)},${by + hw * Math.cos(ang)}L${bx + hw * Math.sin(ang)},${by - hw * Math.cos(ang)}Z`);
</script>
</body></html>
